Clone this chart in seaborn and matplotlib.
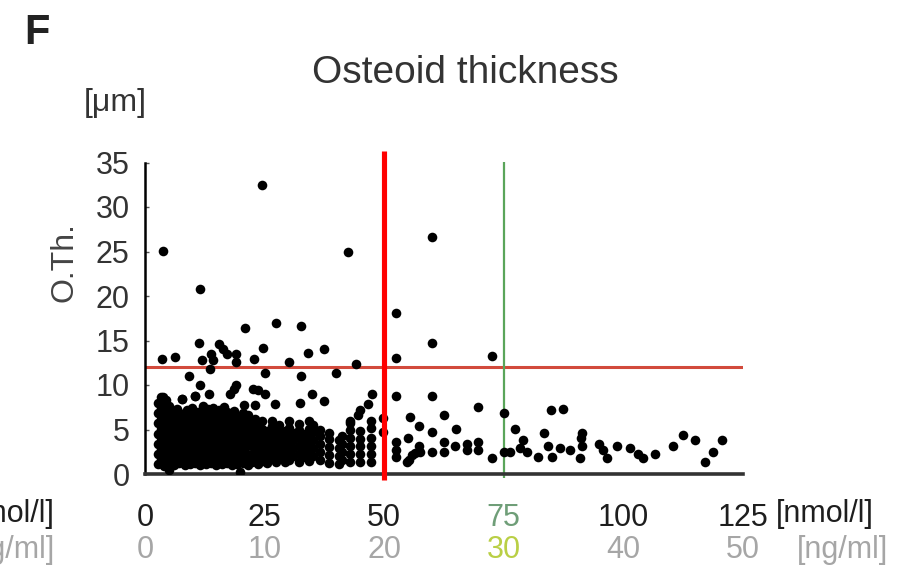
import matplotlib
matplotlib.use("Agg")
import matplotlib.pyplot as plt
from matplotlib.transforms import blended_transform_factory
import pandas as pd
import seaborn as sns

# 25(OH)D serum level [nmol/l] against osteoid thickness [um]

# dense cloud of low vitamin D cases: column position -> osteoid values
dense_cols = [2.8, 3.3, 3.9, 4.4, 5.0, 5.5, 6.1, 6.6, 7.2, 7.7, 8.3, 8.8,
              9.4, 9.9, 10.5, 11.0, 11.6, 12.1, 12.7, 13.2, 13.8, 14.3,
              14.9, 15.4, 16.0, 16.5, 17.1, 17.6, 18.2, 18.7, 19.3, 19.8,
              20.4, 20.9, 21.5]
dense_vals = [
    [1.1, 2.3, 3.4, 4.5, 5.7, 6.8, 8.0],
    [1.7, 2.8, 4.0, 5.1, 6.2, 7.4, 8.6],
    [0.9, 2.0, 3.1, 4.3, 5.5, 6.6, 7.8],
    [1.4, 2.6, 3.7, 4.9, 6.0, 7.1, 8.3],
    [0.4, 1.1, 2.2, 3.3, 4.5, 5.6, 6.8, 7.6],
    [1.6, 2.8, 3.9, 5.1, 6.2, 7.2],
    [1.0, 2.1, 3.3, 4.4, 5.6, 6.7],
    [1.5, 2.7, 3.8, 5.0, 6.1, 7.3],
    [1.2, 2.3, 3.5, 4.6, 5.8, 6.9],
    [1.7, 2.9, 4.0, 5.2, 6.3, 8.4],
    [1.0, 2.2, 3.3, 4.5, 5.6, 6.8],
    [1.5, 2.6, 3.8, 4.9, 6.1, 7.2],
    [1.1, 2.3, 3.4, 4.6, 5.7, 6.6],
    [1.6, 2.8, 3.9, 5.1, 6.2, 7.4],
    [1.2, 2.4, 3.5, 4.7, 5.8, 6.9, 8.8],
    [1.7, 2.9, 4.0, 5.2, 6.3, 7.0],
    [1.0, 2.2, 3.3, 4.5, 5.6, 6.7],
    [1.5, 2.6, 3.8, 4.9, 6.1, 7.6],
    [1.1, 2.3, 3.4, 4.6, 5.7, 6.8],
    [1.6, 2.8, 3.9, 5.1, 6.2, 7.3],
    [1.2, 2.4, 3.5, 4.7, 5.8, 6.6],
    [1.7, 2.9, 4.0, 5.2, 6.3, 7.4],
    [1.0, 2.1, 3.3, 4.4, 5.6, 6.7],
    [1.5, 2.7, 3.8, 5.0, 6.1, 7.2],
    [1.1, 2.3, 3.4, 4.6, 5.7, 6.8],
    [1.6, 2.8, 3.9, 5.1, 6.2, 7.5],
    [1.2, 2.4, 3.5, 4.7, 5.8, 7.0],
    [1.7, 2.9, 4.0, 5.2, 6.3],
    [1.0, 2.2, 3.3, 4.5, 5.6, 6.7],
    [1.5, 2.6, 3.8, 4.9, 6.1, 7.1],
    [1.1, 2.3, 3.4, 4.6, 5.7, 6.5],
    [0.2, 1.6, 2.8, 3.9, 5.1, 6.2],
    [1.2, 2.4, 3.5, 4.7, 5.8, 6.9],
    [1.7, 2.9, 4.0, 5.2, 6.3],
    [1.0, 2.1, 3.3, 4.4, 5.5, 6.6],
]

# vertical strips between 22 and 48 nmol/l
strip_cols = [22.3, 23.0, 23.7, 24.4, 25.5, 26.5, 27.3, 28.0, 29.2, 30.1,
              31.0, 32.2, 33.0, 34.3, 35.2, 36.6, 38.5, 40.5, 41.2, 42.8,
              44.9, 47.3]
strip_vals = [
    [1.3, 2.2, 3.1, 4.0, 4.9, 5.8],
    [1.6, 2.5, 3.4, 4.3, 5.2, 6.2],
    [1.1, 2.0, 2.9, 3.8, 4.7, 5.6],
    [1.5, 2.4, 3.3, 4.2, 5.1, 6.0],
    [1.2, 2.1, 3.0, 3.9, 4.8],
    [1.8, 2.7, 3.6, 4.5, 5.4, 6.0],
    [1.4, 2.3, 3.2, 4.1, 5.0],
    [1.9, 2.8, 3.7, 4.6, 5.5],
    [1.3, 2.2, 3.1, 4.0, 4.8],
    [1.6, 2.5, 3.4, 4.3, 5.2, 6.0],
    [2.0, 2.9, 3.8, 4.6],
    [1.4, 2.3, 3.2, 4.1, 5.0, 5.6],
    [1.9, 2.8, 3.7, 4.5],
    [1.5, 2.4, 3.3, 4.2, 5.1, 5.9],
    [2.0, 2.9, 3.8, 4.7, 5.5],
    [1.6, 2.5, 3.4, 4.3, 5.0],
    [1.2, 2.1, 3.0, 3.9, 4.6],
    [1.1, 2.0, 2.9, 3.8],
    [1.6, 2.5, 3.4, 4.3],
    [1.4, 2.3, 3.2, 4.1, 4.9, 5.7, 6.0],
    [1.3, 2.2, 3.1, 3.9, 4.8],
    [1.4, 2.3, 3.2, 4.1, 5.2, 6.0],
]

# remaining individual cases
single_x = [3.7, 24.4, 11.4, 42.5, 60.0, 20.8, 27.3, 32.6, 52.4,
            3.6, 6.3, 11.2, 12.0, 13.8, 14.3, 15.5, 16.4, 17.1, 19.0, 19.0,
            13.6, 22.7, 24.7, 25.0, 30.0, 34.0, 37.5, 32.6, 40.0, 44.1, 9.3,
            52.4, 60.0, 72.5,
            11.4, 10.5, 13.4, 7.7, 3.8, 19.0, 18.5, 17.8, 22.6, 23.7, 25.1,
            20.6, 23.0, 27.2, 32.4, 34.9, 37.4, 47.4, 46.7, 45.0, 44.6,
            52.5, 59.9, 55.4, 62.4, 69.7, 57.3, 59.9, 65.0, 52.5, 54.9, 52.5,
            52.5, 55.1, 55.8, 57.3, 57.5, 60.0, 62.4, 62.4, 64.9, 67.4, 67.4,
            69.7, 69.7, 72.5, 49.8, 49.8, 75.1, 75.1, 54.7, 56.5,
            77.4, 76.3, 78.4, 79.1, 79.8, 82.2, 83.3, 84.3, 85.0, 84.8, 87.3,
            86.8, 88.8, 91.3, 91.3, 90.9, 91.1, 94.8, 95.8, 96.5, 98.6, 101.4,
            103.1, 104.2, 106.6, 110.4, 112.5, 115.0, 117.1, 118.8, 120.6]
single_y = [25.1, 32.5, 20.8, 24.9, 26.6, 16.4, 17.0, 16.6, 18.1,
            12.9, 13.2, 14.7, 12.8, 13.5, 12.8, 14.6, 14.1, 13.5, 13.5, 12.6,
            11.8, 12.9, 14.2, 11.3, 12.6, 13.6, 14.0, 11.0, 11.3, 12.4, 11.0,
            13.0, 14.7, 13.3,
            10.0, 8.8, 9.0, 8.4, 8.6, 10.0, 9.6, 9.0, 9.6, 9.4, 9.0,
            7.7, 7.7, 7.9, 8.0, 9.0, 8.2, 9.0, 7.9, 7.2, 6.6,
            8.8, 8.8, 6.4, 6.6, 7.5, 5.4, 4.7, 5.1, 3.6, 4.0, 2.7,
            1.9, 1.6, 2.1, 3.1, 2.5, 2.5, 3.6, 2.5, 3.2, 3.4, 2.7,
            3.6, 2.7, 1.8, 6.3, 4.7, 6.8, 2.5, 1.4, 2.4,
            5.1, 2.5, 2.9, 3.8, 2.5, 1.9, 4.6, 3.1, 1.9, 7.2, 7.3,
            2.9, 2.7, 4.6, 3.1, 1.8, 4.0, 3.4, 2.7, 1.8, 3.2, 2.9,
            2.3, 1.8, 2.3, 3.2, 4.4, 3.8, 1.4, 2.5, 3.8]

nmol_ticks = [0, 25, 50, 75, 100, 125]
ng_ticks = [0, 10, 20, 30, 40, 50]
threshold_nmol = [50, 75]
threshold_oth = 12

rows = []
for xc, ys in zip(dense_cols, dense_vals):
    rows += [(xc, yv) for yv in ys]
for xc, ys in zip(strip_cols, strip_vals):
    rows += [(xc, yv) for yv in ys]
rows += list(zip(single_x, single_y))
df = pd.DataFrame(rows, columns=["nmol", "oth"])

sns.set_theme(style="white")
plt.rcParams["font.family"] = ["Liberation Sans", "DejaVu Sans"]

W, H = 919, 568
fig = plt.figure(figsize=(W / 100, H / 100), dpi=100)
ax = fig.add_axes([145 / W, 1 - 474 / H, 598 / W, 311.5 / H])

sns.scatterplot(data=df, x="nmol", y="oth", color="black", s=48,
                linewidth=0, ax=ax, zorder=3, legend=False)

ax.set_xlim(0, 125)
ax.set_ylim(0, 35)
ax.set_xlabel("")
ax.set_ylabel("")

for side in ["top", "right"]:
    ax.spines[side].set_visible(False)
ax.spines["left"].set_color("black")
ax.spines["left"].set_linewidth(1.8)
ax.spines["bottom"].set_color("#333333")
ax.spines["bottom"].set_linewidth(2.6)

# reference lines
ax.axhline(threshold_oth, color="#d24a3c", lw=2.2, zorder=2)
ax.plot([threshold_nmol[1]] * 2, [-0.45, 35.1], color="#5aa55a", lw=1.6,
        clip_on=False, zorder=2, solid_capstyle="butt")
ax.plot([threshold_nmol[0]] * 2, [-0.7, 36.3], color="#ff0000", lw=3.7,
        clip_on=False, zorder=4, solid_capstyle="butt")

# y axis
ax.set_yticks(range(0, 36, 5))
ax.tick_params(axis="y", direction="in", length=3, width=1, color="#555555",
               labelsize=22, labelcolor="#333333", pad=11, left=True)

# x axis: nmol/l row as tick labels, ng/ml row below
ax.set_xticks(nmol_ticks)
ax.set_xticklabels([str(v) for v in nmol_ticks])
ax.tick_params(axis="x", length=0, labelsize=22, labelcolor="#1e1e1e", pad=21)
for lab in ax.get_xticklabels():
    if lab.get_text() == "75":
        lab.set_color("#6f9e78")

trans = blended_transform_factory(ax.transData, fig.transFigure)
for v in ng_ticks:
    ax.text(v * 2.5, 1 - 550 / H, str(v), transform=trans, ha="center",
            va="center", fontsize=22,
            color="#b9cf45" if v == 30 else "#a6a6a6")

fig.text(776 / W, 1 - 514 / H, "[nmol/l]", ha="left", va="center",
         fontsize=22, color="#1e1e1e")
fig.text(797 / W, 1 - 550 / H, "[ng/ml]", ha="left", va="center",
         fontsize=22, color="#a6a6a6")
fig.text(55 / W, 1 - 514 / H, "[nmol/l]", ha="right", va="center",
         fontsize=22, color="#1e1e1e")
fig.text(55 / W, 1 - 550 / H, "[ng/ml]", ha="right", va="center",
         fontsize=22, color="#a6a6a6")

fig.text(465 / W, 1 - 73 / H, "Osteoid thickness", ha="center", va="center",
         fontsize=28, color="#333333")
fig.text(24 / W, 1 - 33 / H, "F", ha="left", va="center", fontsize=30,
         fontweight="bold", color="#222222")
fig.text(115 / W, 1 - 103 / H, "[μm]", ha="center", va="center",
         fontsize=23, color="#333333")
fig.text(65 / W, 1 - 262 / H, "O.Th.", rotation=90, ha="center",
         va="center", fontsize=23, color="#444444")

fig.savefig("out.png", dpi=100)
